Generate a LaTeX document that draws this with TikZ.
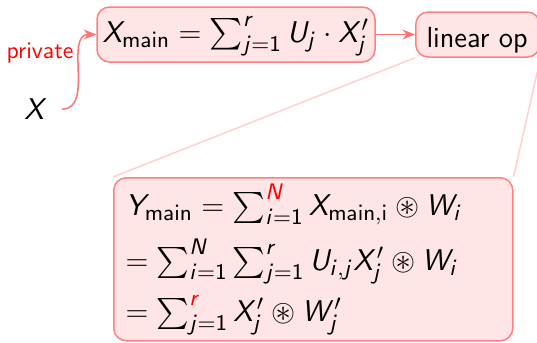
\documentclass[tikz,border=0pt]{standalone}
\usepackage{amsmath,amssymb}
\usetikzlibrary{arrows.meta}
\DeclareSymbolFont{sfit}{OT1}{cmss}{m}{sl}
\DeclareSymbolFont{sfup}{OT1}{cmss}{m}{n}
\DeclareMathSymbol{X}{\mathalpha}{sfit}{`X}
\DeclareMathSymbol{Y}{\mathalpha}{sfit}{`Y}
\DeclareMathSymbol{U}{\mathalpha}{sfit}{`U}
\DeclareMathSymbol{W}{\mathalpha}{sfit}{`W}
\DeclareMathSymbol{N}{\mathalpha}{sfit}{`N}
\DeclareMathSymbol{r}{\mathalpha}{sfit}{`r}
\DeclareMathSymbol{i}{\mathalpha}{sfit}{`i}
\DeclareMathSymbol{j}{\mathalpha}{sfit}{`j}
\DeclareMathSymbol{1}{\mathalpha}{sfup}{`1}
\begin{document}
\begin{tikzpicture}[x=0.4pt,y=-0.4pt,
  every node/.style={font=\fontsize{12.6}{15}\selectfont\sffamily},
  box/.style={draw=red!50, fill=red!10, rounded corners=5pt, line width=0.6pt, inner sep=0pt},
  conn/.style={draw=red!55, -{Stealth[length=5pt,width=4pt]}, line width=0.6pt},
  zoomline/.style={draw=red!18, line width=0.6pt},
  eqline/.style={anchor=base west, inner sep=0pt, font=\fontsize{12.4}{15}\selectfont\sffamily},
  lbl/.style={text=red, font=\fontsize{9.5}{11}\selectfont\sffamily}]
\useasboundingbox (0,0) rectangle (537,342);
\node[box, minimum width=111.2pt, minimum height=22pt] (main) at (236,34.5) {};
\node[anchor=base, inner sep=0pt] (maintxt) at (236,42)
  {$X_{\mathsf{main}} = \sum_{j=1}^{r} U_j \cdot X'_j$};
\node[box, minimum width=49.6pt, minimum height=18pt, anchor=west] (lin) at (415,34.5) {};
\node[anchor=base west, inner sep=0pt, font=\fontsize{11.6}{14}\selectfont\sffamily] (lintxt) at (426,47) {linear op};
\node[anchor=base, inner ysep=0pt, inner xsep=5.6pt] (x) at (36,119.5) {$X$};
\node[lbl, anchor=base, inner sep=0pt] (priv) at (40,58) {private};
\node[box, anchor=north west, minimum width=159.6pt, minimum height=65.2pt] (big) at (113,177) {};
\node[eqline] (eq1) at (125,215)
  {$Y_{\mathsf{main}} = \sum_{i=1}^{\textcolor{red}{N}} X_{\mathsf{main,i}} \circledast W_i$};
\node[eqline] (eq2) at (125,270)
  {$= \sum_{i=1}^{N} \sum_{j=1}^{r} U_{i,j} X'_j \circledast W_i$};
\node[eqline] (eq3) at (125,321)
  {$= \sum_{j=1}^{\textcolor{red}{r}} X'_j \circledast W'_j$};
\draw[conn] (x.east) to[out=0,in=180] (main.west);
\draw[conn] (main) -- (lin);
\draw[zoomline] (lin.south west) -- (big.north west);
\draw[zoomline] (lin.south east) -- (big.north east);
\end{tikzpicture}
\end{document}
